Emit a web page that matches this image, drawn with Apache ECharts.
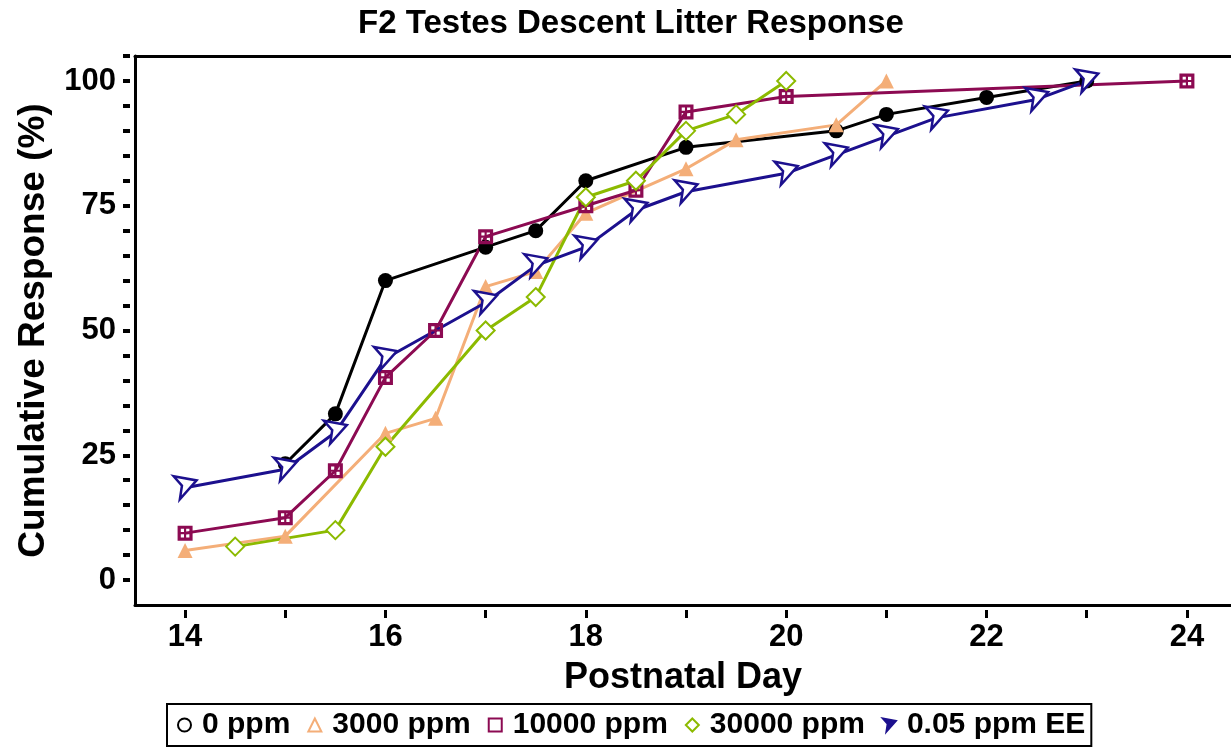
<!DOCTYPE html>
<html>
<head>
<meta charset="utf-8">
<script src="https://cdn.jsdelivr.net/npm/echarts@6/dist/echarts.min.js"></script>
<style>
  html, body { margin: 0; padding: 0; background: #fff; }
  #chart { width: 1231px; height: 751px; }
</style>
</head>
<body>
<div id="chart"></div>
<script>
// data
const seriesNames = ['0 ppm', '3000 ppm', '10000 ppm', '30000 ppm', '0.05 ppm EE']

const days0 = [15, 15.5, 16, 17, 17.5, 18, 19, 20.5, 21, 22, 23]
const resp0 = [23.3, 33.3, 60, 66.7, 70, 80, 86.7, 90, 93.3, 96.7, 100]

const days3000 = [14, 15, 16, 16.5, 17, 17.5, 18, 19, 19.5, 20.5, 21]
const resp3000 = [5.9, 8.8, 29.4, 32.4, 58.8, 61.8, 73.5, 82.4, 88.2, 91.2, 100]

const days10000 = [14, 15, 15.5, 16, 16.5, 17, 18, 18.5, 19, 20, 24]
const resp10000 = [9.4, 12.5, 21.9, 40.6, 50, 68.8, 75, 78.1, 93.8, 96.9, 100]

const days30000 = [14.5, 15.5, 16, 17, 17.5, 18, 18.5, 19, 19.5, 20]
const resp30000 = [6.7, 10, 26.7, 50, 56.7, 76.7, 80, 90, 93.3, 100]

const daysEE = [14, 15, 15.5, 16, 17, 17.5, 18, 18.5, 19, 20, 20.5, 21, 21.5, 22.5, 23]
const respEE = [18.5, 22.2, 29.6, 44.4, 55.6, 63, 66.7, 74.1, 77.8, 81.5, 85.2, 88.9, 92.6, 96.3, 100]

const xTicks = [14, 15, 16, 17, 18, 19, 20, 21, 22, 23, 24]
const xLabels = [14, 16, 18, 20, 22, 24]
const yTicks = [0, 5, 10, 15, 20, 25, 30, 35, 40, 45, 50, 55, 60, 65, 70, 75, 80, 85, 90, 95, 100, 105]
const yLabels = [0, 25, 50, 75, 100]

const FONT = "'Liberation Sans', Arial, Helvetica, sans-serif"
const X_MIN = 13.5, X_MAX = 24.44
const Y_MIN = -5, Y_MAX = 105

const zip = (xs, ys) => xs.map((x, i) => [x, ys[i]])

// plot markers: solid shapes with small holes, like the sas-style symbols
const squareDots = 'path://M0,0 L14,0 L14,14 L0,14 Z M3,3 L3,6 L6,6 L6,3 Z M8,3 L8,6 L11,6 L11,3 Z M3,8 L3,11 L6,11 L6,8 Z M8,8 L8,11 L11,11 L11,8 Z'
const arrowShape = 'path://M0,0 L22,4 L6,22 L8,9 Z'

const styles = [
  { color: '#000000', symbol: 'circle', legendIcon: 'circle', size: 15, fill: '#000000', border: 0 },
  { color: '#f4ae78', symbol: 'triangle', legendIcon: 'triangle', size: 15, fill: '#f4ae78', border: 0 },
  { color: '#8c0a52', symbol: squareDots, legendIcon: 'rect', size: 15, fill: '#8c0a52', border: 0 },
  { color: '#8cba00', symbol: 'diamond', legendIcon: 'diamond', size: 18, fill: '#ffffff', border: 2 },
  { color: '#1c108e', symbol: arrowShape, legendIcon: arrowShape, size: 23, fill: '#ffffff', border: 2.5 }
]
const allData = [
  zip(days0, resp0),
  zip(days3000, resp3000),
  zip(days10000, resp10000),
  zip(days30000, resp30000),
  zip(daysEE, respEE)
]

const chart = echarts.init(document.getElementById('chart'))

const series = seriesNames.map((name, i) => ({
  name: name,
  type: 'line',
  data: allData[i],
  xAxisIndex: 0,
  yAxisIndex: 0,
  symbol: styles[i].symbol,
  symbolSize: styles[i].size,
  symbolKeepAspect: true,
  showAllSymbol: true,
  lineStyle: { color: styles[i].color, width: 3 },
  itemStyle: { color: styles[i].fill, borderColor: styles[i].color, borderWidth: styles[i].border },
  animation: false
}))

chart.setOption({
  backgroundColor: '#ffffff',
  title: {
    text: 'F2 Testes Descent Litter Response',
    left: 626,
    top: 2,
    textAlign: 'center',
    textStyle: { fontFamily: FONT, fontWeight: 'bold', fontSize: 33, color: '#000' }
  },
  legend: {
    data: seriesNames.map((n, i) => ({
      name: n,
      icon: styles[i].legendIcon,
      itemStyle: { color: i === 4 ? styles[i].color : '#ffffff', borderColor: styles[i].color, borderWidth: 2 }
    })),
    left: 167,
    top: 704,
    orient: 'horizontal',
    padding: [6, 6, 6, 10],
    itemGap: 17,
    itemWidth: 13,
    itemHeight: 13,
    borderColor: '#000',
    borderWidth: 2,
    textStyle: { fontFamily: FONT, fontWeight: 'bold', fontSize: 30, color: '#000', padding: [0, 0, 0, 6] }
  },
  grid: { left: 135, top: 56, right: 0, bottom: 146, containLabel: false },
  xAxis: [
    {
      type: 'value', min: X_MIN, max: X_MAX, position: 'bottom',
      axisLine: { show: true, onZero: false, lineStyle: { color: '#000', width: 3 } },
      axisTick: { show: false }, axisLabel: { show: false }, splitLine: { show: false }
    },
    {
      type: 'value', min: X_MIN, max: X_MAX, position: 'bottom', offset: 5,
      name: 'Postnatal Day', nameLocation: 'middle', nameGap: 50,
      nameTextStyle: { fontFamily: FONT, fontWeight: 'bold', fontSize: 36, color: '#000' },
      axisLine: { show: false, onZero: false },
      axisTick: { show: true, length: 8, customValues: xTicks, lineStyle: { color: '#000', width: 3 } },
      axisLabel: { show: true, customValues: xLabels, margin: 12,
        fontFamily: FONT, fontWeight: 'bold', fontSize: 31, color: '#000' },
      splitLine: { show: false }
    },
    {
      type: 'value', min: X_MIN, max: X_MAX, position: 'top',
      axisLine: { show: true, onZero: false, lineStyle: { color: '#000', width: 3 } },
      axisTick: { show: false }, axisLabel: { show: false }, splitLine: { show: false }
    }
  ],
  yAxis: [
    {
      type: 'value', min: Y_MIN, max: Y_MAX, position: 'left',
      axisLine: { show: true, onZero: false, lineStyle: { color: '#000', width: 3 } },
      axisTick: { show: false }, axisLabel: { show: false }, splitLine: { show: false }
    },
    {
      type: 'value', min: Y_MIN, max: Y_MAX, position: 'left', offset: 5,
      name: 'Cumulative Response (%)', nameLocation: 'middle', nameGap: 78,
      nameTextStyle: { fontFamily: FONT, fontWeight: 'bold', fontSize: 37, color: '#000' },
      axisLine: { show: false, onZero: false },
      axisTick: { show: true, length: 7, customValues: yTicks, lineStyle: { color: '#000', width: 4 } },
      axisLabel: { show: true, customValues: yLabels, margin: 14,
        fontFamily: FONT, fontWeight: 'bold', fontSize: 31, color: '#000' },
      splitLine: { show: false }
    }
  ],
  series: series
})
</script>
</body>
</html>
